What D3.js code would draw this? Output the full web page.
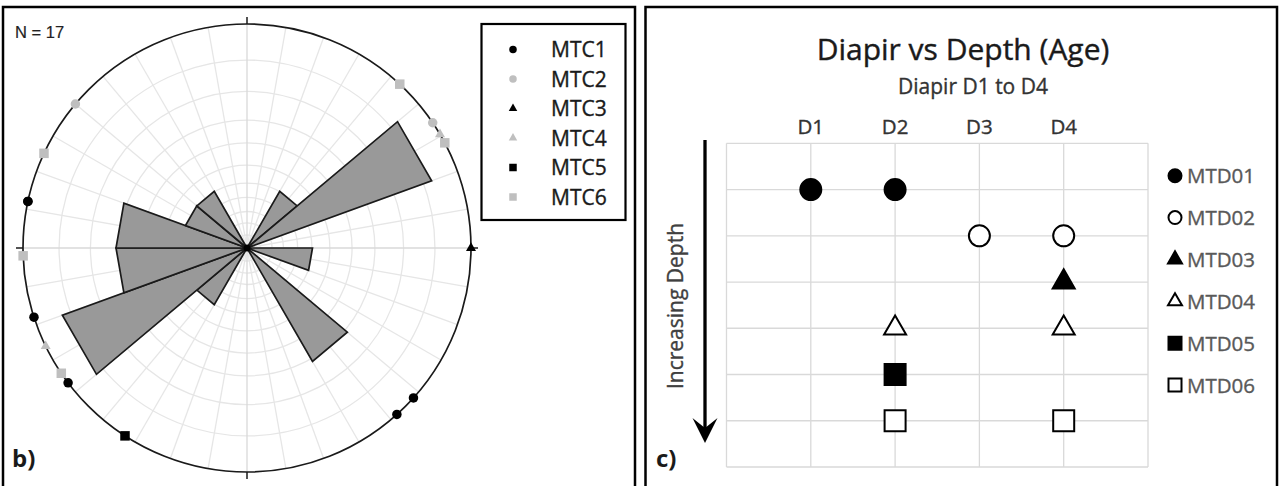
<!DOCTYPE html>
<html>
<head>
<meta charset="utf-8">
<script src="https://cdn.jsdelivr.net/npm/d3@7"></script>
<style>
    body { margin: 0; background: #fff; }
    svg { display: block; }
</style>
</head>
<body>
<svg id="chart" width="1280" height="486"></svg>
<script>
// ---------- b) rose diagram ----------
const roseBinStart = [30, 50, 90, 130, 210, 230, 250, 270, 290, 310];
const roseBinCount = [1, 3, 1, 2, 1, 3, 2, 2, 1, 1];
const roseBinWidth = 20;

const mtcNames = ["MTC1", "MTC2", "MTC3", "MTC4", "MTC5", "MTC6"];
const mtcColour = ["#000000", "#bfbfbf", "#000000", "#bfbfbf", "#000000", "#bfbfbf"];
const mtcShape = ["circle", "circle", "triangle", "triangle", "square", "square"];

// azimuth of each measurement (deg clockwise from north) and its MTC
const pointAzimuth = [43, 56, 59.5, 62, 90, 132, 138, 213, 233, 236, 244, 252, 268, 282, 282, 295, 310];
const pointMtc = ["MTC6", "MTC2", "MTC4", "MTC6", "MTC3", "MTC1", "MTC1", "MTC5", "MTC1",
    "MTC6", "MTC4", "MTC1", "MTC6", "MTC1", "MTC1", "MTC6", "MTC2"];

// ---------- c) diapir vs depth ----------
const diapirs = ["D1", "D2", "D3", "D4"];
const mtds = ["MTD01", "MTD02", "MTD03", "MTD04", "MTD05", "MTD06"];
const mtdShape = ["circle", "circle", "triangle", "triangle", "square", "square"];
const mtdFilled = [true, false, true, false, true, false];
const mtdDiapirs = [["D1", "D2"], ["D3", "D4"], ["D4"], ["D2", "D4"], ["D2"], ["D2", "D4"]];

const svg = d3.select("#chart");
const font = "'Open Sans', sans-serif";

const symbolTypes = {circle: d3.symbolCircle, triangle: d3.symbolTriangle, square: d3.symbolSquare};
function symbolPath(shape, w) {
    let area = w * w;
    if (shape === "circle") area = Math.PI * w * w / 4;
    if (shape === "triangle") area = Math.sqrt(3) / 4 * w * w;
    return d3.symbol().type(symbolTypes[shape]).size(area)();
}

// text helper, a hairline stroke makes Open Sans look closer to the heavier original
function label(x, y, str, size, colour, opts = {}) {
    return svg.append("text")
        .attr("x", x).attr("y", y)
        .attr("text-anchor", opts.anchor || "start")
        .attr("font-family", opts.family || font)
        .attr("font-weight", opts.weight || "normal")
        .attr("font-size", size + "px")
        .attr("fill", colour)
        .attr("stroke", colour)
        .attr("stroke-width", opts.stroke === undefined ? 0.35 : opts.stroke)
        .text(str);
}

// panel frames
svg.append("rect").attr("x", 3).attr("y", 7).attr("width", 632).attr("height", 490)
    .attr("fill", "none").attr("stroke", "#000").attr("stroke-width", 2.5);
svg.append("rect").attr("x", 645.5).attr("y", 7).attr("width", 631.5).attr("height", 490)
    .attr("fill", "none").attr("stroke", "#000").attr("stroke-width", 2.5);

// ===== rose diagram =====
function drawRose() {
    const center = {x: 247, y: 248};
    const R = 224;
    const g = svg.append("g").attr("transform", `translate(${center.x},${center.y})`);

    const angle = d3.scaleLinear().domain([0, 360]).range([0, 2 * Math.PI]);
    const radius = d3.scaleLinear().domain([0, 3.42]).range([0, R]);
    const px = (a, r) => r * Math.sin(angle(a));
    const py = (a, r) => -r * Math.cos(angle(a));

    // light polar grid
    const gridRadii = [0.058, 0.112, 0.163, 0.226, 0.29, 0.37, 0.469, 0.571, 0.699, 0.839];
    gridRadii.forEach(f => {
        g.append("circle").attr("r", f * R).attr("fill", "none")
            .attr("stroke", "#e6e6e6").attr("stroke-width", 1.3);
    });
    d3.range(0, 360, 10).forEach(a => {
        g.append("line")
            .attr("x1", 0).attr("y1", 0)
            .attr("x2", px(a, R)).attr("y2", py(a, R))
            .attr("stroke", a % 90 === 0 ? "#d9d9d9" : "#e6e6e6")
            .attr("stroke-width", 1.3);
    });

    // petals
    const petals = roseBinStart.map((s, i) => ({start: s, end: s + roseBinWidth, count: roseBinCount[i]}));
    g.selectAll(".petal")
        .data(petals)
        .enter().append("path")
        .attr("class", "petal")
        .attr("d", d => {
            const r = radius(d.count);
            return `M0,0L${px(d.start, r)},${py(d.start, r)}L${px(d.end, r)},${py(d.end, r)}Z`;
        })
        .attr("fill", "#999999")
        .attr("stroke", "#1a1a1a")
        .attr("stroke-width", 1.7)
        .attr("stroke-linejoin", "miter");

    g.append("circle").attr("r", 3.5).attr("fill", "#000");

    // outer circle + cardinal ticks
    g.append("circle").attr("r", R).attr("fill", "none")
        .attr("stroke", "#1a1a1a").attr("stroke-width", 1.7);
    [0, 90, 180, 270].forEach(a => {
        g.append("line")
            .attr("x1", px(a, R)).attr("y1", py(a, R))
            .attr("x2", px(a, R + 7)).attr("y2", py(a, R + 7))
            .attr("stroke", "#1a1a1a").attr("stroke-width", 1.5);
    });

    // measurements on the circumference
    const points = pointAzimuth.map((a, i) => ({az: a, mtc: mtcNames.indexOf(pointMtc[i])}));
    g.selectAll(".pt")
        .data(points)
        .enter().append("path")
        .attr("class", "pt")
        .attr("transform", d => `translate(${px(d.az, R)},${py(d.az, R)})`)
        .attr("d", d => symbolPath(mtcShape[d.mtc], mtcShape[d.mtc] === "triangle" ? 10 : 9.5))
        .attr("fill", d => mtcColour[d.mtc]);

    label(15, 38, "N = 17", 16.5, "#222", {family: "'Liberation Sans', Arial, sans-serif", stroke: 0.2});

    // legend
    svg.append("rect").attr("x", 481.5).attr("y", 24).attr("width", 144).attr("height", 196)
        .attr("fill", "#fff").attr("stroke", "#000").attr("stroke-width", 2.2);
    const legendY = d3.scaleLinear().domain([0, 5]).range([49.5, 197]);
    mtcNames.forEach((name, i) => {
        svg.append("path")
            .attr("transform", `translate(513,${legendY(i)})`)
            .attr("d", symbolPath(mtcShape[i], mtcShape[i] === "triangle" ? 8.5 : 7.5))
            .attr("fill", mtcColour[i]);
        label(551, legendY(i) + 7.5, name, 21, "#1a1a1a");
    });

    label(12, 467, "b)", 24, "#1a1a1a", {weight: "bold", stroke: 0});
}

// ===== diapir vs depth =====
function drawDiapirChart() {
    const x = d3.scaleLinear().domain([0, 5]).range([726.5, 1148]);
    const y = d3.scaleLinear().domain([0, 7]).range([143.3, 467]);
    const g = svg.append("g");

    // grid
    d3.range(0, 6).forEach(v => {
        g.append("line").attr("x1", x(v)).attr("x2", x(v)).attr("y1", y(0)).attr("y2", y(7))
            .attr("stroke", "#d9d9d9").attr("stroke-width", 1.3);
    });
    d3.range(0, 8).forEach(v => {
        g.append("line").attr("x1", x(0)).attr("x2", x(5)).attr("y1", y(v)).attr("y2", y(v))
            .attr("stroke", "#d9d9d9").attr("stroke-width", 1.3);
    });

    // titles
    label(963, 60, "Diapir vs Depth (Age)", 30, "#1a1a1a", {anchor: "middle", stroke: 0.4});
    label(973, 94, "Diapir D1 to D4", 21, "#333", {anchor: "middle"});

    // top category labels
    diapirs.forEach((d, i) => label(x(i + 1), 134, d, 20.5, "#333", {anchor: "middle"}));

    // markers
    const points = [];
    mtds.forEach((m, i) => mtdDiapirs[i].forEach(d => points.push({row: i, col: diapirs.indexOf(d)})));
    g.selectAll(".mark")
        .data(points)
        .enter().append("path")
        .attr("class", "mark")
        .attr("transform", d => `translate(${x(d.col + 1)},${y(d.row + 1)})`)
        .attr("d", d => symbolPath(mtdShape[d.row], mtdShape[d.row] === "triangle" ? 22 : 21))
        .attr("fill", d => mtdFilled[d.row] ? "#000" : "#fff")
        .attr("stroke", "#000")
        .attr("stroke-width", 2);

    // legend
    const legendY = d3.scaleLinear().domain([0, 5]).range([175.7, 385]);
    mtds.forEach((m, i) => {
        svg.append("path")
            .attr("transform", `translate(1175,${legendY(i)})`)
            .attr("d", symbolPath(mtdShape[i], mtdShape[i] === "triangle" ? 14 : 13))
            .attr("fill", mtdFilled[i] ? "#000" : "#fff")
            .attr("stroke", "#000")
            .attr("stroke-width", 2);
        label(1187, legendY(i) + 7.5, m, 20.5, "#595959");
    });

    // depth arrow
    svg.append("line")
        .attr("x1", 705).attr("x2", 705).attr("y1", 140).attr("y2", 430)
        .attr("stroke", "#000").attr("stroke-width", 3.3);
    svg.append("path")
        .attr("d", "M692.5,418L705,443L717.5,418L705,428Z")
        .attr("fill", "#000");
    label(0, 0, "Increasing Depth", 21, "#404040", {anchor: "middle"})
        .attr("transform", "translate(683,306) rotate(-90)");

    label(656, 467, "c)", 24, "#1a1a1a", {weight: "bold", stroke: 0});
}

drawRose();
drawDiapirChart();
</script>
</body>
</html>
